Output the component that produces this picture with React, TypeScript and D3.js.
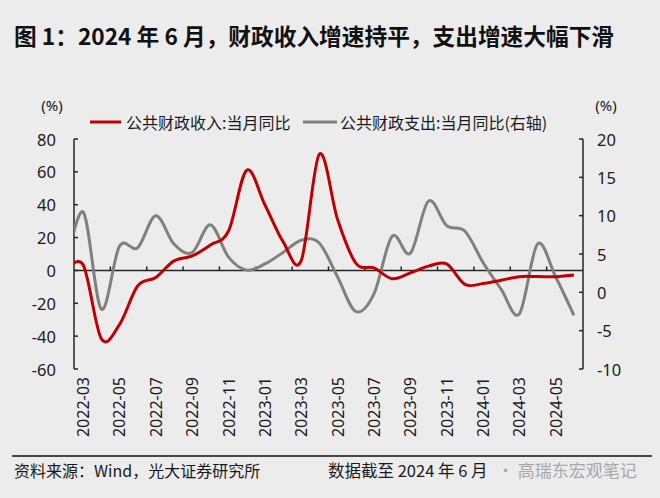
import React from 'react';
import * as d3 from 'd3';

// Monthly categories (first entry sits just left of the plot area and is clipped)
const months = [
  '2022-02', '2022-03', '2022-04', '2022-05', '2022-06', '2022-07', '2022-08', '2022-09', '2022-10', '2022-11', '2022-12',
  '2023-01', '2023-02', '2023-03', '2023-04', '2023-05', '2023-06', '2023-07', '2023-08', '2023-09', '2023-10', '2023-11', '2023-12',
  '2024-01', '2024-02', '2024-03', '2024-04', '2024-05', '2024-06',
];

// 公共财政收入:当月同比 (left axis, %)
const revenueYoY = [
  -1.7, 3.4, -41.5, -33.0, -9.5, -4.3, 5.8, 8.8, 15.5, 24.0, 61.0,
  40.0, 17.5, 6.0, 70.8, 31.0, 4.5, 1.5, -5.0, -1.5, 2.6, 4.0, -8.5,
  -8.0, -6.0, -3.8, -3.7, -3.8, -2.8,
];

// 公共财政支出:当月同比 (right axis, %)
const expenditureYoY = [
  2.4, 10.5, -2.2, 6.0, 5.8, 10.0, 6.3, 5.2, 8.8, 4.6, 2.9,
  3.7, 5.2, 6.8, 6.4, 2.0, -2.5, -0.2, 7.3, 5.1, 11.9, 8.7, 8.0,
  3.9, 0.4, -2.8, 6.3, 2.0, -3.0,
];

const leftTicks = [80, 60, 40, 20, 0, -20, -40, -60];
const rightTicks = [20, 15, 10, 5, 0, -5, -10];
const xLabelMonths = ['2022-03', '2022-05', '2022-07', '2022-09', '2022-11', '2023-01', '2023-03', '2023-05', '2023-07', '2023-09', '2023-11', '2024-01', '2024-03', '2024-05'];

const titleText = '图 1：2024 年 6 月，财政收入增速持平，支出增速大幅下滑';
const legendRevenue = '公共财政收入:当月同比';
const legendExpenditure = '公共财政支出:当月同比(右轴)';
const sourceText = '资料来源：Wind，光大证券研究所';
const dateText = '数据截至 2024 年 6 月';
const watermarkText = '· 高瑞东宏观笔记';

const FONT = '"Noto Sans CJK SC", "Noto Sans", sans-serif';
const NUM_FONT = '"Noto Sans", "Noto Sans CJK SC", sans-serif';

export default function App() {
  const W = 660;
  const H = 498;
  const plot = { left: 74, right: 583, top: 139, bottom: 369 };

  const x = d3.scaleLinear().domain([0.5, months.length - 0.5]).range([plot.left, plot.right]);
  const yL = d3.scaleLinear().domain([-60, 80]).range([plot.bottom, plot.top]);
  const yR = d3.scaleLinear().domain([-10, 20]).range([plot.bottom, plot.top]);

  const revLine = d3
    .line<number>()
    .x((_, i) => x(i))
    .y((d) => yL(d))
    .curve(d3.curveCardinal.tension(0));
  const expLine = d3
    .line<number>()
    .x((_, i) => x(i))
    .y((d) => yR(d))
    .curve(d3.curveCardinal.tension(0));

  const zeroY = yL(0);
  const tickIdx: number[] = [];
  for (let v = 2.5; v < months.length - 1; v += 2) tickIdx.push(v);

  const axisColor = '#262626';
  const textColor = '#1a1a1a';

  return (
    <svg
      width={W}
      height={H}
      style={{ position: 'absolute', left: 0, top: 0, display: 'block' }}
      xmlns="http://www.w3.org/2000/svg"
    >
      <defs>
        <clipPath id="plotClip">
          <rect x={plot.left} y={0} width={plot.right - plot.left} height={H} />
        </clipPath>
      </defs>
      <rect x={0} y={0} width={W} height={H} fill="#ececec" />

      {/* Title */}
      <text x={14} y={45} fontFamily={FONT} fontWeight={700} fontSize={22.7} fill="#111">
        {titleText}
      </text>

      {/* Unit labels */}
      <text x={52} y={105} fontFamily={NUM_FONT} fontSize={15} fill={textColor} textAnchor="middle" dominantBaseline="central">
        (%)
      </text>
      <text x={606} y={105} fontFamily={NUM_FONT} fontSize={15} fill={textColor} textAnchor="middle" dominantBaseline="central">
        (%)
      </text>

      {/* Legend */}
      <line x1={90} x2={121} y1={122} y2={122} stroke="#c00000" strokeWidth={3} />
      <text x={126} y={122} fontFamily={FONT} fontSize={16} fill={textColor} dominantBaseline="central">
        {legendRevenue}
      </text>
      <line x1={303} x2={337} y1={122} y2={122} stroke="#808080" strokeWidth={3} />
      <text x={340} y={122} fontFamily={FONT} fontSize={16} fill={textColor} dominantBaseline="central">
        {legendExpenditure}
      </text>

      {/* Left axis */}
      <line x1={plot.left} x2={plot.left} y1={plot.top} y2={plot.bottom} stroke={axisColor} strokeWidth={1.5} />
      {leftTicks.map((t) => (
        <g key={'l' + t}>
          <line x1={plot.left} x2={plot.left + 4} y1={yL(t)} y2={yL(t)} stroke={axisColor} strokeWidth={1.5} />
          <text x={56} y={yL(t)} fontFamily={NUM_FONT} fontSize={16.5} fill={textColor} textAnchor="end" dominantBaseline="central">
            {t}
          </text>
        </g>
      ))}

      {/* Right axis */}
      <line x1={plot.right} x2={plot.right} y1={plot.top} y2={plot.bottom} stroke={axisColor} strokeWidth={1.5} />
      {rightTicks.map((t) => (
        <g key={'r' + t}>
          <line x1={plot.right - 4} x2={plot.right} y1={yR(t)} y2={yR(t)} stroke={axisColor} strokeWidth={1.5} />
          <text x={597} y={yR(t)} fontFamily={NUM_FONT} fontSize={16.5} fill={textColor} textAnchor="start" dominantBaseline="central">
            {t}
          </text>
        </g>
      ))}

      {/* Category axis at zero */}
      <line x1={plot.left} x2={plot.right} y1={zeroY} y2={zeroY} stroke={axisColor} strokeWidth={1.5} />
      {tickIdx.map((v) => (
        <line key={'t' + v} x1={x(v)} x2={x(v)} y1={zeroY - 4} y2={zeroY} stroke={axisColor} strokeWidth={1.5} />
      ))}

      {/* Lines */}
      <g clipPath="url(#plotClip)">
        <path d={expLine(expenditureYoY) || ''} fill="none" stroke="#808080" strokeWidth={3} strokeLinejoin="round" />
        <path d={revLine(revenueYoY) || ''} fill="none" stroke="#c00000" strokeWidth={3} strokeLinejoin="round" />
      </g>

      {/* X labels */}
      {xLabelMonths.map((m) => {
        const i = months.indexOf(m);
        const xi = x(i);
        return (
          <text
            key={m}
            transform={`translate(${xi},${377}) rotate(-90)`}
            fontFamily={NUM_FONT}
            fontSize={16}
            fill={textColor}
            textAnchor="end"
            dominantBaseline="central"
          >
            {m}
          </text>
        );
      })}

      {/* Footer */}
      <line x1={12} x2={652} y1={456} y2={456} stroke="#111" strokeWidth={1.5} />
      <text x={14} y={477} fontFamily={FONT} fontSize={16} fill={textColor}>
        {sourceText}
      </text>
      <text x={328} y={477} fontFamily={FONT} fontSize={16.5} fill={textColor}>
        {dateText}
      </text>
      <text x={497} y={477} fontFamily={FONT} fontSize={17} fill="#a8a8a8">
        {watermarkText}
      </text>
    </svg>
  );
}
